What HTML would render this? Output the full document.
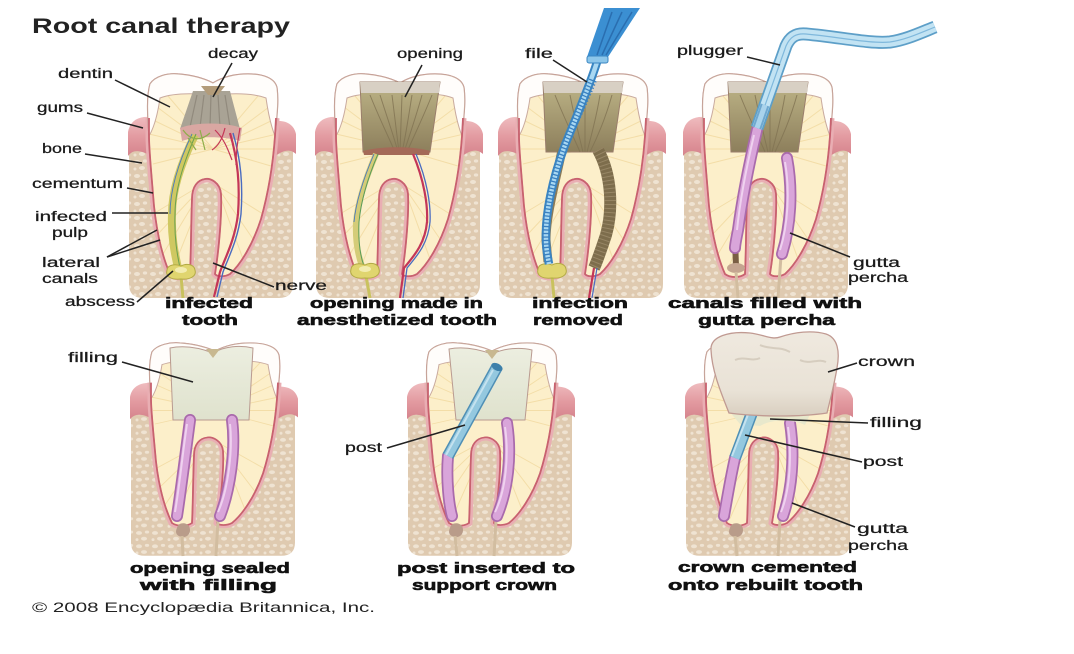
<!DOCTYPE html>
<html><head><meta charset="utf-8">
<style>
html,body{margin:0;padding:0;background:#fff;}
svg{display:block;}
.l{font-family:"Liberation Sans",sans-serif;font-size:13.5px;fill:#1a1a1a;stroke:#1a1a1a;stroke-width:0.25;}
.t{font-family:"Liberation Sans",sans-serif;font-size:15px;font-weight:bold;fill:#111;stroke:#111;stroke-width:0.6;}
.h{font-family:"Liberation Sans",sans-serif;font-size:21px;font-weight:bold;fill:#222;}
.c{font-family:"Liberation Sans",sans-serif;font-size:14px;fill:#222;}
.ld{stroke:#222;stroke-width:1.5;fill:none;}
</style></head><body>
<svg width="1074" height="654" viewBox="0 0 1074 654">
<defs>
<pattern id="bp" width="16" height="14" patternUnits="userSpaceOnUse">
<rect width="16" height="14" fill="#dfcab0"/>
<ellipse cx="4" cy="4" rx="3" ry="2" fill="#efe3d2"/>
<ellipse cx="12" cy="3" rx="2.2" ry="1.6" fill="#efe3d2"/>
<ellipse cx="9" cy="10" rx="3" ry="2" fill="#efe3d2"/>
<ellipse cx="2" cy="11" rx="1.5" ry="1.5" fill="#efe3d2"/>
</pattern>
<linearGradient id="gg" x1="0" y1="0" x2="0" y2="1">
<stop offset="0" stop-color="#efbcbf"/><stop offset="0.5" stop-color="#e39ba1"/><stop offset="1" stop-color="#d5838c"/>
</linearGradient>
<linearGradient id="cav" x1="0" y1="0" x2="0" y2="1">
<stop offset="0" stop-color="#bdb487"/><stop offset="1" stop-color="#8d7f5c"/>
</linearGradient>
<linearGradient id="fil" x1="0" y1="0" x2="0" y2="1">
<stop offset="0" stop-color="#eceee0"/><stop offset="1" stop-color="#dfe2cd"/>
</linearGradient>
<linearGradient id="crw" x1="0" y1="0" x2="0" y2="1">
<stop offset="0" stop-color="#efe9df"/><stop offset="0.7" stop-color="#e9e2d6"/><stop offset="1" stop-color="#d9cfc0"/>
</linearGradient>
<path id="sil" d="M -63,10 C -58,2 -45,-1 -35,0 C -22,1 -10,4 0,9 C 10,3 22,0 35,0 C 50,0 62,4 64,14 C 66,30 63,48 62,62 C 60,90 55,120 48,145 C 40,170 28,190 17,200 C 12,203 4,203 2,200 C 6,175 9,140 8,120 C 7,108 -3,104 -8,105 C -15,106 -21,112 -21,125 C -22,150 -22,180 -23,200 C -28,204 -38,204 -43,200 C -52,180 -58,150 -60,120 C -62,95 -64,75 -64,62 C -65,45 -67,25 -63,10 Z"/>
<path id="root" d="M 63,44 L 62,62 C 60,90 55,120 48,145 C 40,170 28,190 17,200 C 12,203 4,203 2,200 C 6,175 9,140 8,120 C 7,108 -3,104 -8,105 C -15,106 -21,112 -21,125 C -22,150 -22,180 -23,200 C -28,204 -38,204 -43,200 C -52,180 -58,150 -60,120 C -62,95 -64,75 -64,62 L -64,44"/>
<clipPath id="silc"><use href="#sil"/></clipPath>
<g id="bone">
<path d="M -84,70 L 80,70 L 80,210 Q 80,224 66,224 L -70,224 Q -84,224 -84,210 Z" fill="url(#bp)"/>
</g>
<g id="gum">
<path d="M -85,58 C -83,47 -75,42 -63,43 L 62,47 C 74,46 81,51 83,60 L 83,80 C 76,74 70,77 62,82 L -62,82 C -72,76 -80,75 -85,82 Z" fill="url(#gg)"/>
</g>
<g id="tooth">
<use href="#root" fill="none" stroke="#e9aeb3" stroke-width="7"/>
<use href="#sil" fill="#fcefca" stroke="#b9807c" stroke-width="1.4"/>
<g clip-path="url(#silc)" stroke="#f2dba4" stroke-width="1" fill="none" opacity="0.9">
<path d="M0,75 L-60,30 M0,75 L-62,45 M0,75 L-64,60 M0,75 L-62,75 M0,75 L-60,90 M0,75 L60,30 M0,75 L62,45 M0,75 L64,60 M0,75 L62,75 M0,75 L58,92 M0,75 L-45,22 M0,75 L45,22"/>
<path d="M-10,110 L-60,140 M-10,112 L-55,160 M-10,114 L-50,180 M-8,115 L-40,195 M5,112 L50,140 M5,114 L40,165 M5,116 L30,185"/>
</g>
<path d="M -64,62 C -65,45 -67,25 -63,10 C -58,2 -45,-1 -35,0 C -22,1 -10,4 0,9 C 10,3 22,0 35,0 C 50,0 62,4 64,14 C 66,30 63,48 62,62 C 58,52 55,38 53,24 C 40,19 20,19 0,21 C -20,19 -40,19 -53,24 C -55,38 -58,52 -64,62 Z" fill="#fffdfb" stroke="#c9aa9e" stroke-width="1"/>
<use href="#root" fill="none" stroke="#c8616f" stroke-width="1.8"/>
</g>
</defs>

<!-- ============ ROW 1 ============ -->
<g transform="translate(213,74)"><use href="#bone"/><use href="#gum"/><use href="#tooth"/></g>
<g transform="translate(400,74)"><use href="#bone"/><use href="#gum"/><use href="#tooth"/></g>
<g transform="translate(583,74)"><use href="#bone"/><use href="#gum"/><use href="#tooth"/></g>
<g transform="translate(768,74)"><use href="#bone"/><use href="#gum"/><use href="#tooth"/></g>

<!-- tooth 1 details -->
<path d="M193,91 L230,91 L240,129 L180,129 Z" fill="#a9a395"/>
<path d="M197,95 L190,127 M204,95 L200,127 M211,95 L210,127 M218,95 L220,127 M225,95 L230,127" stroke="#918a7d" stroke-width="1.2"/>
<path d="M201,86 L225,86 L218,95 L208,95 Z" fill="#b39c7a"/>
<path d="M180,128 C 195,122 225,122 242,128 L 240,141 C 225,136 195,136 182,141 Z" fill="#d9a7a2"/>
<path d="M195,135 C 185,155 172,185 172,214 C 171,240 176,258 178,268" stroke="#cfc862" stroke-width="8" fill="none"/>
<path d="M196,134 C 187,155 175,185 175,214 C 174,240 178,258 180,268" stroke="#6aa050" stroke-width="1" fill="none"/>
<path d="M192,134 C 182,155 170,185 170,214" stroke="#4a78c0" stroke-width="0.9" fill="none"/>
<path d="M183,130 C 190,140 200,142 210,133 M200,130 L 205,150 M188,138 L 196,150" stroke="#8fae4a" stroke-width="1.2" fill="none"/>
<path d="M230,133 C 238,160 240,185 238,214 C 235,240 225,258 220,272 L 214,297" stroke="#c43657" stroke-width="2.2" fill="none"/>
<path d="M233,133 C 241,160 243,185 241,214 C 238,240 228,258 223,272 L 217,297" stroke="#4a6cc0" stroke-width="1.4" fill="none"/>
<path d="M215,130 C 225,140 228,150 232,160 M240,128 C 238,140 236,150 236,165 M225,128 C 222,140 218,146 212,150" stroke="#c43657" stroke-width="1.2" fill="none"/>
<path d="M181,276 L183,298" stroke="#c9c25e" stroke-width="3"/>
<path d="M167,270 C 168,264 176,264 181,266 C 186,263 194,264 195,270 C 197,276 190,280 181,279 C 172,280 165,277 167,270 Z" fill="#e0d56f" stroke="#b3aa44" stroke-width="1"/>
<ellipse cx="181" cy="270" rx="6" ry="3" fill="#f3ecb0"/>

<!-- tooth 2 details -->
<path d="M360,82 L440,82 L430,152 L363,152 Z" fill="url(#cav)" stroke="#9a7e6c" stroke-width="1"/>
<path d="M360,82 L440,82 L439,93 L361,93 Z" fill="#d8d0c4"/>
<path d="M370,95 C 380,120 390,140 395,152 M380,95 C 388,120 395,140 398,152 M392,95 L399,152 M402,95 L400,152 M412,95 C 408,120 405,140 402,152 M422,95 C 415,120 408,140 404,152 M432,95 C 422,120 412,140 407,152" stroke="#817352" stroke-width="1" fill="none" opacity="0.8"/>
<path d="M363,151 C 380,146 415,146 430,151 L 429,155 L 364,155 Z" fill="#a46a58"/>
<path d="M376,154 C 367,175 358,200 356,222 C 355,245 359,258 362,266" stroke="#d4cc78" stroke-width="6" fill="none"/>
<path d="M378,154 C 369,175 361,200 359,222 C 358,245 361,258 364,266" stroke="#5a9c5a" stroke-width="1" fill="none"/>
<path d="M374,154 C 365,175 356,200 354,222" stroke="#4a78c0" stroke-width="0.9" fill="none"/>
<path d="M413,154 C 424,180 428,205 427,222 C 425,245 412,258 404,268 L 400,298" stroke="#c43657" stroke-width="2.2" fill="none"/>
<path d="M416,154 C 427,180 431,205 430,222 C 428,245 415,258 407,268 L 403,298" stroke="#4a6cc0" stroke-width="1.3" fill="none"/>
<path d="M366,276 L370,298" stroke="#c9c25e" stroke-width="3"/>
<path d="M351,269 C 352,263 360,263 365,265 C 370,262 378,263 379,269 C 381,275 374,279 365,278 C 356,279 349,276 351,269 Z" fill="#e0d56f" stroke="#b3aa44" stroke-width="1"/>
<ellipse cx="365" cy="269" rx="6" ry="3" fill="#f3ecb0"/>

<!-- tooth 3 details -->
<path d="M543,82 L623,82 L613,152 L546,152 Z" fill="url(#cav)" stroke="#9a7e6c" stroke-width="1"/>
<path d="M543,82 L623,82 L622,93 L544,93 Z" fill="#d8d0c4"/>
<path d="M555,95 C 565,120 575,140 580,152 M570,95 C 575,120 580,140 583,152 M585,95 L585,152 M600,95 C 596,120 590,140 587,152 M612,95 C 605,120 596,140 590,152" stroke="#817352" stroke-width="1" fill="none" opacity="0.8"/>
<path d="M598,150 C 612,175 613,210 606,235 C 601,250 597,262 594,268" stroke="#7d6d4c" stroke-width="12" fill="none"/>
<path d="M598,150 C 612,175 613,210 606,235 C 601,250 597,262 594,268" stroke="#a29270" stroke-width="12" fill="none" stroke-dasharray="1 3" opacity="0.7"/>
<path d="M562,150 C 556,180 546,215 546,240 L 548,262" stroke="#8a7a58" stroke-width="9" fill="none"/>
<path d="M594,268 L589,298" stroke="#c43657" stroke-width="2.2"/>
<path d="M597,268 L592,298" stroke="#4a6cc0" stroke-width="1.2"/>
<path d="M552,276 L554,298" stroke="#c9c25e" stroke-width="3"/>
<path d="M538,269 C 539,263 547,263 552,265 C 557,262 565,263 566,269 C 568,275 561,279 552,278 C 543,279 536,276 538,269 Z" fill="#e0d56f" stroke="#b3aa44" stroke-width="1"/>
<!-- file -->
<path d="M597,62 C 590,85 575,120 565,145 C 552,180 545,215 546,240 C 546,250 548,258 549,264" stroke="#3a86c2" stroke-width="8.5" fill="none"/>
<path d="M597,62 C 590,85 575,120 565,145 C 552,180 545,215 546,240 C 546,250 548,258 549,264" stroke="#a9d8f2" stroke-width="4.5" fill="none"/>
<path d="M593,80 C 585,100 575,120 565,145 C 552,180 545,215 546,240 C 546,250 548,258 549,264" stroke="#3a80c0" stroke-width="8" fill="none" stroke-dasharray="1.3 2.2"/>
<path d="M604,8 L640,8 L608,57 L587,57 Z" fill="#3b8fd2"/>
<path d="M612,12 L597,55 M622,12 L602,55 M632,12 L606,55" stroke="#2a6eb0" stroke-width="1.5"/>
<rect x="587" y="56" width="21" height="7" rx="2" fill="#8cc6ea" stroke="#3a86c2" stroke-width="1"/>

<!-- tooth 4 details -->
<path d="M728,82 L808,82 L798,152 L731,152 Z" fill="url(#cav)" stroke="#9a7e6c" stroke-width="1"/>
<path d="M728,82 L808,82 L807,93 L729,93 Z" fill="#d8d0c4"/>
<path d="M740,95 C 750,120 760,140 765,152 M755,95 C 760,120 765,140 768,152 M770,95 L770,152 M785,95 C 781,120 775,140 772,152 M797,95 C 790,120 781,140 775,152" stroke="#817352" stroke-width="1" fill="none" opacity="0.8"/>
<path d="M735,240 L736,266" stroke="#7a5e44" stroke-width="6"/>
<ellipse cx="736" cy="268" rx="9" ry="5" fill="#c4a590"/>
<path d="M736,272 L738,298" stroke="#d2bda0" stroke-width="3"/>
<path d="M781,256 L778,298" stroke="#d2bda0" stroke-width="3"/>
<path d="M757,130 C 750,160 742,200 738,230 C 736,240 735,245 735,248" stroke="#a96aac" stroke-width="12" fill="none" stroke-linecap="round"/>
<path d="M757,130 C 750,160 742,200 738,230 C 736,240 735,245 735,248" stroke="#d9a5da" stroke-width="8.5" fill="none" stroke-linecap="round"/>
<path d="M754,135 C 747,165 740,200 737,230" stroke="#efd2ef" stroke-width="2" fill="none"/>
<path d="M787,158 C 793,190 791,225 782,254" stroke="#a96aac" stroke-width="12" fill="none" stroke-linecap="round"/>
<path d="M787,158 C 793,190 791,225 782,254" stroke="#d9a5da" stroke-width="8.5" fill="none" stroke-linecap="round"/>
<path d="M785,162 C 790,190 788,225 780,250" stroke="#efd2ef" stroke-width="2" fill="none"/>
<!-- plugger -->
<path d="M757,128 L786,46 C 790,37 796,33 806,34 C 840,37 870,44 890,42 C 905,40 920,33 935,27" stroke="#5d9fc8" stroke-width="13" fill="none"/>
<path d="M757,128 L786,46 C 790,37 796,33 806,34 C 840,37 870,44 890,42 C 905,40 920,33 935,27" stroke="#c2e3f3" stroke-width="9.5" fill="none"/>
<path d="M757,128 L786,46 C 790,37 796,33 806,34 C 840,37 870,44 890,42 C 905,40 920,33 935,27" stroke="#7fb8dc" stroke-width="1.2" fill="none"/>
<path d="M757,128 L765,105" stroke="#6fa8cf" stroke-width="9"/>
<path d="M757,128 L765,105" stroke="#a9d3ec" stroke-width="5"/>

<!-- ============ ROW 2 ============ -->
<g transform="translate(215,343)"><use href="#bone" transform="scale(1,0.95)"/><use href="#gum" transform="scale(1,0.93)"/><use href="#tooth" transform="scale(1,0.9)"/></g>
<g transform="translate(492,343)"><use href="#bone" transform="scale(1,0.95)"/><use href="#gum" transform="scale(1,0.93)"/><use href="#tooth" transform="scale(1,0.9)"/></g>
<g transform="translate(770,343)"><use href="#bone" transform="scale(1,0.95)"/><use href="#gum" transform="scale(1,0.93)"/><use href="#tooth" transform="scale(1,0.9)"/></g>

<!-- tooth 5 -->
<path d="M177,528 C 178,522 186,522 189,526 C 192,532 188,538 182,537 C 176,536 175,532 177,528 Z" fill="#b99c8a"/>
<path d="M182,536 L183,556" stroke="#d2bda0" stroke-width="3"/>
<path d="M218,520 L216,556" stroke="#d2bda0" stroke-width="3"/>
<path d="M170,348 C 185,345 200,348 213,353 C 225,346 240,345 253,348 L 249,420 L 173,420 Z" fill="url(#fil)" stroke="#b99a90" stroke-width="1"/>
<path d="M206,349 L220,349 L213,358 Z" fill="#c8b890"/>
<path d="M190,420 C 186,450 181,490 177,516" stroke="#a96aac" stroke-width="12" fill="none" stroke-linecap="round"/>
<path d="M190,420 C 186,450 181,490 177,516" stroke="#d9a5da" stroke-width="8.5" fill="none" stroke-linecap="round"/>
<path d="M187,424 C 183,450 179,490 175,512" stroke="#efd2ef" stroke-width="2" fill="none"/>
<path d="M232,420 C 236,450 230,490 220,516" stroke="#a96aac" stroke-width="12" fill="none" stroke-linecap="round"/>
<path d="M232,420 C 236,450 230,490 220,516" stroke="#d9a5da" stroke-width="8.5" fill="none" stroke-linecap="round"/>
<path d="M230,424 C 233,450 228,490 218,512" stroke="#efd2ef" stroke-width="2" fill="none"/>

<!-- tooth 6 -->
<path d="M450,528 C 451,522 459,522 462,526 C 465,532 461,538 455,537 C 449,536 448,532 450,528 Z" fill="#b99c8a"/>
<path d="M455,536 L457,556" stroke="#d2bda0" stroke-width="3"/>
<path d="M496,520 L494,556" stroke="#d2bda0" stroke-width="3"/>
<path d="M449,349 C 463,346 478,349 492,354 C 505,348 520,347 532,350 L 525,420 L 456,420 Z" fill="url(#fil)" stroke="#b99a90" stroke-width="1"/>
<path d="M485,350 L499,350 L492,359 Z" fill="#c8b890"/>
<path d="M448,456 C 446,480 449,505 452,516" stroke="#a96aac" stroke-width="12" fill="none" stroke-linecap="round"/>
<path d="M448,456 C 446,480 449,505 452,516" stroke="#d9a5da" stroke-width="8.5" fill="none" stroke-linecap="round"/>
<path d="M507,423 C 512,455 508,490 497,516" stroke="#a96aac" stroke-width="12" fill="none" stroke-linecap="round"/>
<path d="M507,423 C 512,455 508,490 497,516" stroke="#d9a5da" stroke-width="8.5" fill="none" stroke-linecap="round"/>
<path d="M505,427 C 509,455 506,490 495,512" stroke="#efd2ef" stroke-width="2" fill="none"/>
<path d="M497,367 L448,456" stroke="#4f8fb5" stroke-width="12"/>
<path d="M497,367 L448,456" stroke="#94c8df" stroke-width="9"/>
<path d="M493,370 L446,455" stroke="#c4e2ef" stroke-width="2"/>
<ellipse cx="497" cy="367" rx="6" ry="3.5" fill="#3d80aa" transform="rotate(28 497 367)"/>

<!-- tooth 7 -->
<path d="M730,528 C 731,522 739,522 742,526 C 745,532 741,538 735,537 C 729,536 728,532 730,528 Z" fill="#b99c8a"/>
<path d="M735,536 L737,556" stroke="#d2bda0" stroke-width="3"/>
<path d="M780,520 L778,556" stroke="#d2bda0" stroke-width="3"/>
<path d="M735,458 C 730,480 726,505 724,516" stroke="#a96aac" stroke-width="12" fill="none" stroke-linecap="round"/>
<path d="M735,458 C 730,480 726,505 724,516" stroke="#d9a5da" stroke-width="8.5" fill="none" stroke-linecap="round"/>
<path d="M790,423 C 795,455 792,490 783,516" stroke="#a96aac" stroke-width="12" fill="none" stroke-linecap="round"/>
<path d="M790,423 C 795,455 792,490 783,516" stroke="#d9a5da" stroke-width="8.5" fill="none" stroke-linecap="round"/>
<path d="M788,427 C 792,455 790,490 781,512" stroke="#efd2ef" stroke-width="2" fill="none"/>
<path d="M728,410 L812,410 L805,425 C 790,418 770,420 760,426 L 740,424 Z" fill="#e8e8cc"/>
<path d="M753,410 L735,458" stroke="#4f8fb5" stroke-width="12"/>
<path d="M753,410 L735,458" stroke="#94c8df" stroke-width="9"/>
<path d="M749,412 L732,456" stroke="#c4e2ef" stroke-width="2"/>
<path d="M711,350 C 710,336 730,331 750,333 C 765,335 772,340 780,337 C 795,332 812,330 826,334 C 838,338 840,352 837,368 C 834,386 830,400 827,413 C 800,417 760,417 729,413 C 722,395 712,372 711,350 Z" fill="url(#crw)" stroke="#c09a92" stroke-width="1.3"/>
<path d="M760,345 C 770,350 780,346 790,352 M735,360 C 745,356 752,362 760,358 M800,360 C 810,365 818,358 826,362" stroke="#d6cdbf" stroke-width="2" fill="none"/>

<!-- ============ LEADERS ============ -->
<g class="ld">
<line x1="232" y1="63" x2="213" y2="97"/>
<line x1="115" y1="80" x2="170" y2="107"/>
<line x1="87" y1="113" x2="143" y2="128"/>
<line x1="85" y1="154" x2="142" y2="163"/>
<line x1="127" y1="188" x2="153" y2="193"/>
<line x1="112" y1="213" x2="168" y2="213"/>
<line x1="107" y1="257" x2="157" y2="230"/>
<line x1="107" y1="257" x2="160" y2="240"/>
<line x1="137" y1="302" x2="173" y2="271"/>
<line x1="213" y1="263" x2="274" y2="287"/>
<line x1="422" y1="65" x2="405" y2="97"/>
<line x1="553" y1="60" x2="587" y2="82"/>
<line x1="747" y1="57" x2="780" y2="65"/>
<line x1="790" y1="233" x2="850" y2="257"/>
<line x1="122" y1="362" x2="193" y2="382"/>
<line x1="387" y1="448" x2="465" y2="425"/>
<line x1="857" y1="363" x2="828" y2="372"/>
<line x1="868" y1="423" x2="770" y2="419"/>
<line x1="862" y1="462" x2="745" y2="435"/>
<line x1="855" y1="527" x2="792" y2="503"/>
</g>

<!-- ============ TEXT ============ -->
<text class="h" x="32" y="33" textLength="258" lengthAdjust="spacingAndGlyphs">Root canal therapy</text>

<text class="l" x="208" y="58" textLength="50" lengthAdjust="spacingAndGlyphs">decay</text>
<text class="l" x="58" y="78" textLength="55" lengthAdjust="spacingAndGlyphs">dentin</text>
<text class="l" x="37" y="112" textLength="46" lengthAdjust="spacingAndGlyphs">gums</text>
<text class="l" x="42" y="153" textLength="40" lengthAdjust="spacingAndGlyphs">bone</text>
<text class="l" x="32" y="188" textLength="91" lengthAdjust="spacingAndGlyphs">cementum</text>
<text class="l" x="35" y="221" textLength="72" lengthAdjust="spacingAndGlyphs">infected</text>
<text class="l" x="52" y="237" textLength="36" lengthAdjust="spacingAndGlyphs">pulp</text>
<text class="l" x="42" y="267" textLength="58" lengthAdjust="spacingAndGlyphs">lateral</text>
<text class="l" x="42" y="283" textLength="56" lengthAdjust="spacingAndGlyphs">canals</text>
<text class="l" x="65" y="306" textLength="70" lengthAdjust="spacingAndGlyphs">abscess</text>
<text class="l" x="275" y="290" textLength="52" lengthAdjust="spacingAndGlyphs">nerve</text>
<text class="l" x="397" y="58" textLength="66" lengthAdjust="spacingAndGlyphs">opening</text>
<text class="l" x="525" y="58" textLength="28" lengthAdjust="spacingAndGlyphs">file</text>
<text class="l" x="677" y="55" textLength="66" lengthAdjust="spacingAndGlyphs">plugger</text>
<text class="l" x="853" y="267" textLength="47" lengthAdjust="spacingAndGlyphs">gutta</text>
<text class="l" x="848" y="282" textLength="60" lengthAdjust="spacingAndGlyphs">percha</text>
<text class="l" x="68" y="362" textLength="50" lengthAdjust="spacingAndGlyphs">filling</text>
<text class="l" x="345" y="452" textLength="37" lengthAdjust="spacingAndGlyphs">post</text>
<text class="l" x="858" y="366" textLength="57" lengthAdjust="spacingAndGlyphs">crown</text>
<text class="l" x="870" y="427" textLength="52" lengthAdjust="spacingAndGlyphs">filling</text>
<text class="l" x="863" y="466" textLength="40" lengthAdjust="spacingAndGlyphs">post</text>
<text class="l" x="857" y="533" textLength="51" lengthAdjust="spacingAndGlyphs">gutta</text>
<text class="l" x="848" y="550" textLength="60" lengthAdjust="spacingAndGlyphs">percha</text>

<text class="t" x="165" y="308" textLength="88" lengthAdjust="spacingAndGlyphs">infected</text>
<text class="t" x="182" y="325" textLength="56" lengthAdjust="spacingAndGlyphs">tooth</text>
<text class="t" x="310" y="308" textLength="173" lengthAdjust="spacingAndGlyphs">opening made in</text>
<text class="t" x="297" y="325" textLength="200" lengthAdjust="spacingAndGlyphs">anesthetized tooth</text>
<text class="t" x="532" y="308" textLength="96" lengthAdjust="spacingAndGlyphs">infection</text>
<text class="t" x="533" y="325" textLength="90" lengthAdjust="spacingAndGlyphs">removed</text>
<text class="t" x="668" y="308" textLength="194" lengthAdjust="spacingAndGlyphs">canals filled with</text>
<text class="t" x="698" y="325" textLength="137" lengthAdjust="spacingAndGlyphs">gutta percha</text>
<text class="t" x="130" y="573" textLength="160" lengthAdjust="spacingAndGlyphs">opening sealed</text>
<text class="t" x="140" y="590" textLength="137" lengthAdjust="spacingAndGlyphs">with filling</text>
<text class="t" x="397" y="573" textLength="178" lengthAdjust="spacingAndGlyphs">post inserted to</text>
<text class="t" x="412" y="590" textLength="145" lengthAdjust="spacingAndGlyphs">support crown</text>
<text class="t" x="678" y="572" textLength="179" lengthAdjust="spacingAndGlyphs">crown cemented</text>
<text class="t" x="668" y="590" textLength="195" lengthAdjust="spacingAndGlyphs">onto rebuilt tooth</text>

<text class="c" x="32" y="612" textLength="343" lengthAdjust="spacingAndGlyphs">© 2008 Encyclopædia Britannica, Inc.</text>
</svg>
</body></html>
